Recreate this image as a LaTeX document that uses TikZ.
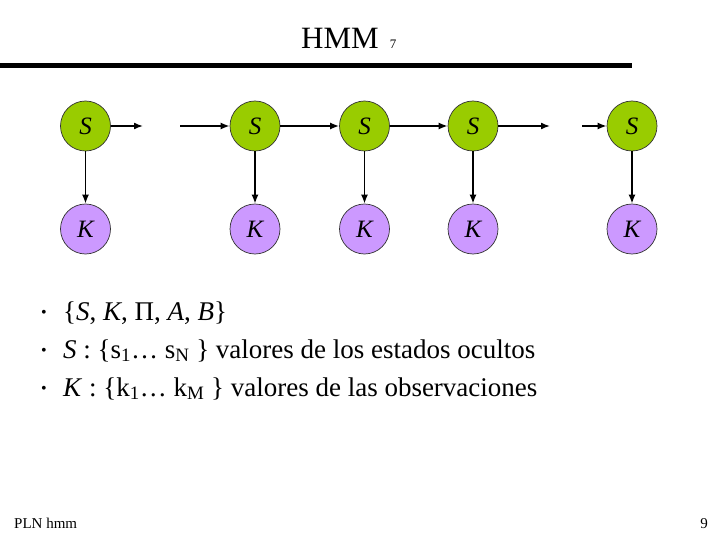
\documentclass[tikz,border=0pt]{standalone}
\usepackage{fontspec}
\setmainfont{Liberation Serif}
\usetikzlibrary{arrows.meta}
\definecolor{sgreen}{HTML}{99CC00}
\definecolor{kpurple}{HTML}{CC99FF}
\begin{document}
\begin{tikzpicture}[x=1pt,y=-1pt,
  snode/.style={circle,draw=black!80,line width=0.7pt,fill=sgreen,minimum size=50pt,inner sep=0pt,font=\fontsize{25}{25}\selectfont\itshape},
  knode/.style={circle,draw=black!80,line width=0.7pt,fill=kpurple,minimum size=50pt,inner sep=0pt,font=\fontsize{25}{25}\selectfont\itshape},
  arr/.style={-{Latex[length=9pt,width=7pt]},line width=1.6pt},
  bul/.style={anchor=base west,inner sep=0pt,font=\fontsize{27}{30}\selectfont}]
\useasboundingbox (0,0) rectangle (720,540);
\node[font=\fontsize{31}{31}\selectfont,anchor=base,inner sep=0pt] (title) at (340,49) {HMM};
\node[font=\fontsize{13}{13}\selectfont,anchor=base,inner sep=0pt] (pg7) at (393,49) {7};
\draw[line width=5pt] (0,66) -- (632,66);
% nodes
\node[snode] (s1) at (85.5,126) {S};
\node[snode] (s2) at (255,126) {S};
\node[snode] (s3) at (364.5,126) {S};
\node[snode] (s4) at (473,126) {S};
\node[snode] (s5) at (632,126) {S};
\node[knode] (k1) at (85.5,229) {K};
\node[knode] (k2) at (255,229) {K};
\node[knode] (k3) at (364.5,229) {K};
\node[knode] (k4) at (473,229) {K};
\node[knode] (k5) at (632,229) {K};
\coordinate (e1) at (143,126);
\coordinate (b2) at (180,126);
\coordinate (e4) at (550,126);
\coordinate (b5) at (582,126);
\draw[arr] (s1) -- (e1);
\draw[arr] (b2) -- (s2);
\draw[arr] (s2) -- (s3);
\draw[arr] (s3) -- (s4);
\draw[arr] (s4) -- (e4);
\draw[arr] (b5) -- (s5);
\foreach \i in {1,...,5} \draw[arr] (s\i) -- (k\i);
% bullets
\node[bul] (d1) at (41,320) {\fontsize{16}{16}\selectfont\raisebox{3pt}{•}};
\node[bul] (d2) at (41,358) {\fontsize{16}{16}\selectfont\raisebox{3pt}{•}};
\node[bul] (d3) at (41,396) {\fontsize{16}{16}\selectfont\raisebox{3pt}{•}};
\node[bul] (t1) at (63,320) {\{\textit{S}, \textit{K}, Π, \textit{A}, \textit{B}\}};
\node[bul] (t2) at (63,358) {\textit{S} : \{s\textsubscript{1}… s\textsubscript{N} \} valores de los estados ocultos};
\node[bul] (t3) at (63,396) {\textit{K} : \{k\textsubscript{1}… k\textsubscript{M} \} valores de las observaciones};
\node[font=\fontsize{15}{15}\selectfont,anchor=base west,inner sep=0pt] (foot) at (14,528) {PLN hmm};
\node[font=\fontsize{15}{15}\selectfont,anchor=base east,inner sep=0pt] (pg) at (708,528) {9};
\end{tikzpicture}
\end{document}
